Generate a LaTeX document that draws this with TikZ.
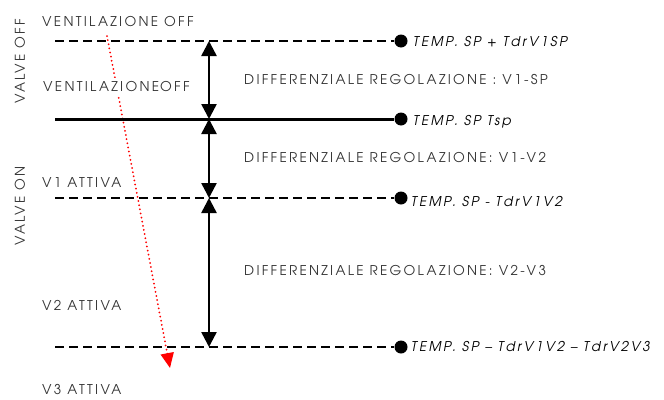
\documentclass[tikz,border=0pt]{standalone}
\usepackage{fontspec}
\setmainfont{texgyreadventor}[Extension=.otf, UprightFont=*-regular, ItalicFont=*-italic, BoldFont=*-bold, BoldItalicFont=*-bolditalic, LetterSpace=17]
\usetikzlibrary{arrows.meta}
\definecolor{txt}{HTML}{333333}
\begin{document}
\begin{tikzpicture}[x=1pt,y=-1pt,
  lbl/.style={font=\fontsize{13.5}{15}\selectfont, text=txt, inner sep=0pt},
  tlbl/.style={font=\fontsize{13.5}{15}\selectfont\itshape, text=black, inner sep=0pt, anchor=west},
  dot/.style={circle, fill=black, minimum size=13pt, inner sep=0pt},
  dline/.style={line width=2pt, dash pattern=on 9pt off 5pt},
  sline/.style={line width=3pt},
  varrow/.style={line width=2.5pt, {Triangle[length=15pt,width=15pt]}-{Triangle[length=15pt,width=15pt]}},
  rarrow/.style={red, line width=2pt, dash pattern=on 0pt off 4.2pt, line cap=round, -{Triangle[length=15pt,width=13pt,line cap=butt]}}
]
\useasboundingbox (0,0) rectangle (664,399);

% red trajectory arrow (drawn first; text covers it)
\coordinate (r0) at (107,36);
\coordinate (r1) at (170,368);
\draw[rarrow] (r0) -- (r1);

% horizontal lines
\coordinate (s1) at (55,41);
\coordinate (s2) at (55,119);
\coordinate (s3) at (55,198);
\coordinate (s4) at (55,347);
\node[dot] (d1) at (401,41) {};
\node[dot] (d2) at (401,119) {};
\node[dot] (d3) at (401,198) {};
\node[dot] (d4) at (401,347) {};
\draw[dline] (s1) -- (d1.west);
\draw[sline] (s2) -- (d2.west);
\draw[dline] (s3) -- (d3.west);
\draw[dline] (s4) -- (d4.west);

% vertical dimension arrows
\coordinate (v1) at (209,41);
\coordinate (v2) at (209,119);
\coordinate (v3) at (209,198);
\coordinate (v4) at (209,347);
\draw[varrow] (v1) -- (v2);
\draw[varrow] (v2) -- (v3);
\draw[varrow] (v3) -- (v4);

% italic labels
\node[tlbl] (t1) at (413,42) {TEMP. SP + TdrV1SP};
\node[tlbl] (t2) at (413,122) {TEMP. SP Tsp};
\node[tlbl] (t3) at (411,202) {TEMP. SP - TdrV1V2};
\node[tlbl] (t4) at (411,347) {TEMP. SP -- TdrV1V2 -- TdrV2V3};

% differential labels
\node[lbl, anchor=west] (f1) at (244,80) {DIFFERENZIALE REGOLAZIONE : V1-SP};
\node[lbl, anchor=west] (f2) at (244,158) {DIFFERENZIALE REGOLAZIONE: V1-V2};
\node[lbl, anchor=west] (f3) at (244,271) {DIFFERENZIALE REGOLAZIONE: V2-V3};

% state labels
\node[lbl, anchor=west] (a1) at (42,22) {VENTILAZIONE OFF};
\node[lbl, anchor=west, fill=white, inner xsep=1pt, inner ysep=4pt] (a2) at (42,87) {VENTILAZIONE\kern1pt OFF};
\node[lbl, anchor=west] (a3) at (42,183) {V1 ATTIVA};
\node[lbl, anchor=west] (a4) at (42,305) {V2 ATTIVA};
\node[lbl, anchor=west] (a5) at (42,390) {V3 ATTIVA};

% side labels
\node[lbl, rotate=90] (b1) at (20,61) {VALVE OFF};
\node[lbl, rotate=90] (b2) at (20,206) {VALVE ON};
\end{tikzpicture}
\end{document}
